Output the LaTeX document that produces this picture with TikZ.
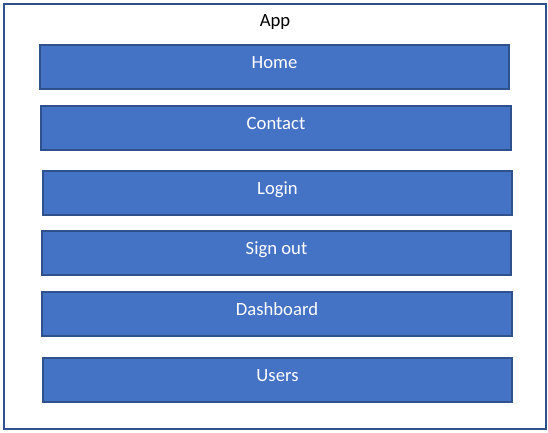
\documentclass[tikz,border=0pt]{standalone}
\usepackage{fontspec}
\setmainfont{Carlito}
\usetikzlibrary{positioning}

\definecolor{pageblue}{HTML}{4472C4}
\definecolor{edgeblue}{HTML}{2F528F}

\tikzset{
  appframe/.style={draw=edgeblue, line width=1.5pt, minimum width=406.5pt, minimum height=319pt, inner sep=0pt},
  pagebox/.style={draw=edgeblue, fill=pageblue, line width=1.3pt, minimum width=352pt, minimum height=33.5pt,
    text=white, text height=8pt, text depth=5.5pt, inner sep=0pt},
  apptext/.style={text=black}
}

\begin{document}
\begin{tikzpicture}[x=0.75pt, y=-0.75pt, font=\fontsize{14pt}{16pt}\selectfont]
\useasboundingbox (0,0) rectangle (548,432);

% Outer frame
\node[appframe] (app) at (275,216.5) {};
\node[apptext] (apptitle) at (275,22.5) {App};

% Pages
\node[pagebox] (home) at (274.5,67) {Home};
\node[pagebox] (contact) at (276,128) {Contact};
\node[pagebox] (login) at (277.5,193) {Login};
\node[pagebox] (signout) at (276.5,253) {Sign out};
\node[pagebox] (dashboard) at (277,314) {Dashboard};
\node[pagebox] (users) at (277.5,380) {Users};
\end{tikzpicture}
\end{document}
